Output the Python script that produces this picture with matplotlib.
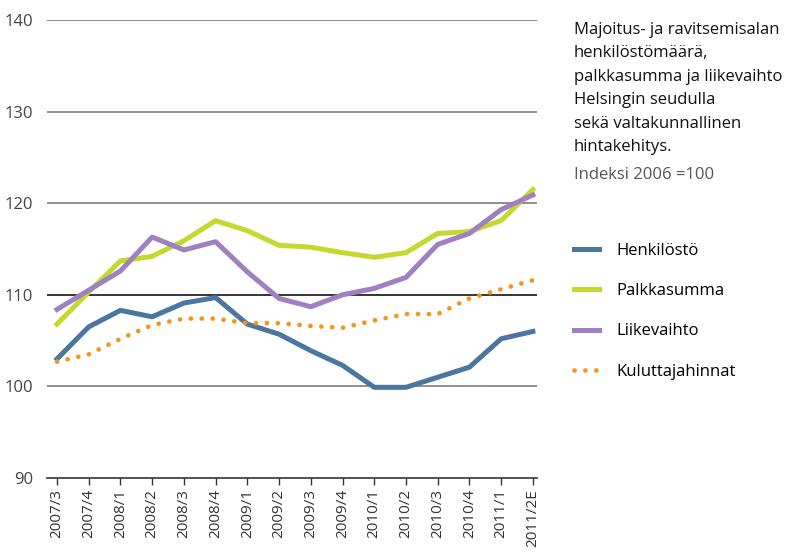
import numpy as np
import matplotlib
matplotlib.use("Agg")
import matplotlib.pyplot as plt

plt.rcParams['font.family'] = ['Open Sans', 'DejaVu Sans']

quarters = ["2007/3", "2007/4", "2008/1", "2008/2", "2008/3", "2008/4",
            "2009/1", "2009/2", "2009/3", "2009/4", "2010/1", "2010/2",
            "2010/3", "2010/4", "2011/1", "2011/2E"]

henkilosto = [103.0, 106.5, 108.3, 107.6, 109.1, 109.7, 106.8, 105.7,
              103.9, 102.3, 99.9, 99.9, 101.0, 102.1, 105.2, 106.0]
palkkasumma = [106.8, 110.3, 113.7, 114.2, 115.9, 118.1, 117.0, 115.4,
               115.2, 114.6, 114.1, 114.6, 116.7, 116.9, 118.1, 121.5]
liikevaihto = [108.4, 110.5, 112.6, 116.3, 114.9, 115.8, 112.5, 109.6,
               108.7, 110.0, 110.7, 111.9, 115.5, 116.7, 119.3, 120.9]
kuluttajahinnat = [102.7, 103.5, 105.2, 106.7, 107.4, 107.4, 106.9, 106.9,
                   106.6, 106.4, 107.2, 107.9, 107.9, 109.6, 110.6, 111.6]

yticks = [90, 100, 110, 120, 130, 140]

fig = plt.figure(figsize=(7.87, 5.55), dpi=100)
ax = fig.add_axes([47/787, 1-478/555, 490/787, 458/555])

x = np.arange(len(quarters))

# gridlines (110 drawn darker like in the original)
for v in yticks[1:]:
    col = '#000000' if v == 110 else '#707070'
    ax.axhline(v, color=col, lw=1.1, zorder=1)

ax.plot(x, henkilosto, color='#4a77a0', lw=3.6, label='Henkilöstö', zorder=3)
ax.plot(x, palkkasumma, color='#c5d82f', lw=3.6, label='Palkkasumma', zorder=3)
ax.plot(x, liikevaihto, color='#a080c0', lw=3.6, label='Liikevaihto', zorder=3)
ax.plot(x, kuluttajahinnat, color='#f7941d', lw=3.4, linestyle=(0, (0.01, 2.3)),
        dash_capstyle='round', label='Kuluttajahinnat', zorder=4)

ax.set_xlim(-0.315, 15.13)
ax.set_ylim(90, 140)

for s in ['top', 'right', 'left']:
    ax.spines[s].set_visible(False)
ax.spines['bottom'].set_color('#333333')
ax.spines['bottom'].set_linewidth(1.2)

ax.set_yticks(yticks)
ax.tick_params(axis='y', length=0, pad=10, labelsize=12, labelcolor='#444444')
ax.set_xticks(x)
ax.set_xticklabels(quarters, rotation=90, fontsize=11, color='#333333')
ax.tick_params(axis='x', length=5, width=1, color='#333333', pad=3)

fig.text(574/787, 1-22/555,
         "Majoitus- ja ravitsemisalan\nhenkilöstömäärä,\npalkkasumma ja liikevaihto\n"
         "Helsingin seudulla\nsekä valtakunnallinen\nhintakehitys.",
         fontsize=12, color='#111111', va='top', ha='left', linespacing=1.62)
fig.text(574/787, 1-175/555, "Indeksi 2006 =100", fontsize=12,
         color='#555555', va='center', ha='left')

fig.legend(loc='upper left', bbox_to_anchor=(574/787, 1-243/555), frameon=False,
           fontsize=12, handlelength=1.5, handletextpad=1.05, labelspacing=1.45,
           borderpad=0, borderaxespad=0)

fig.savefig('out.png', dpi=100)
